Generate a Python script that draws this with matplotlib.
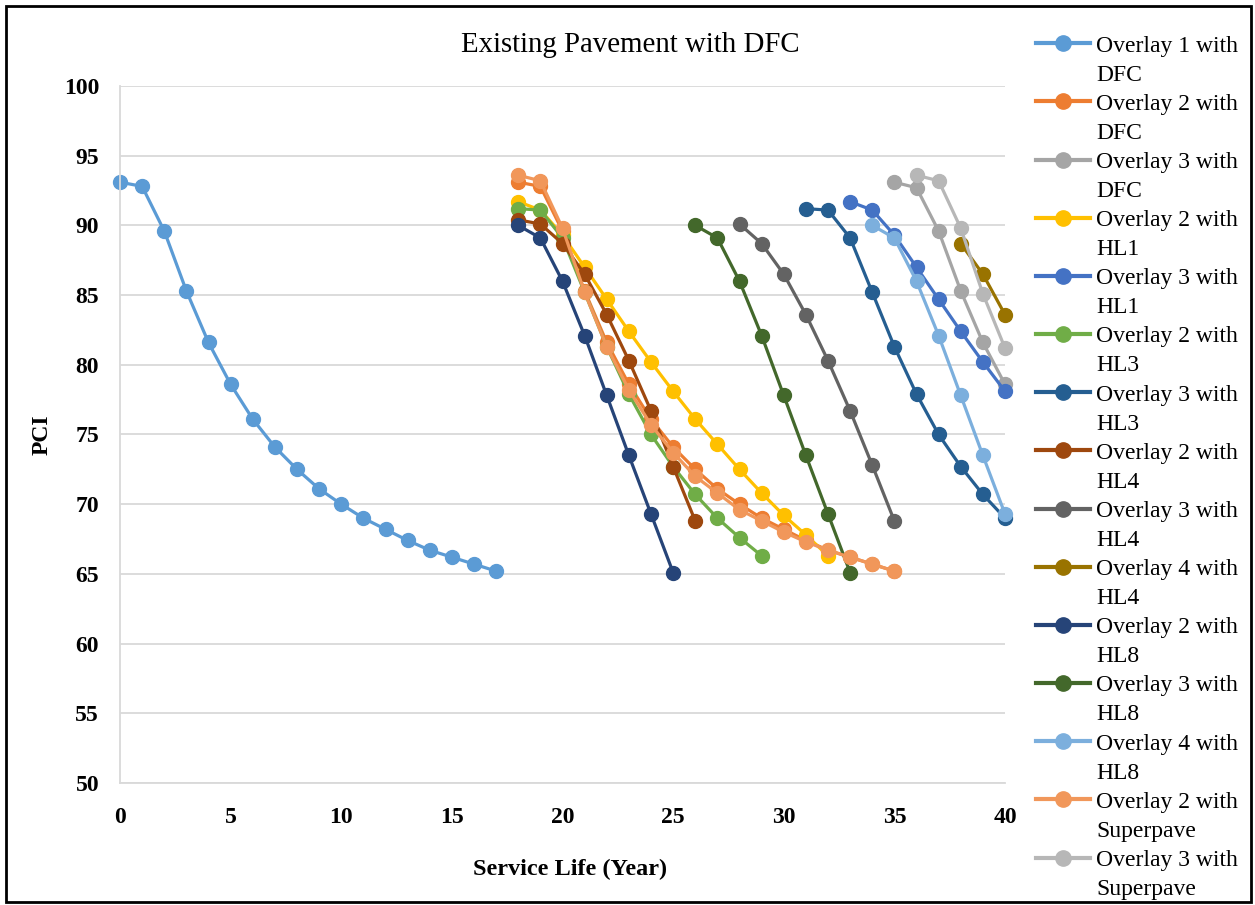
import matplotlib
matplotlib.use("Agg")
import matplotlib.pyplot as plt
from matplotlib.lines import Line2D
from matplotlib.patches import Rectangle

plt.rcParams["font.family"] = ["Liberation Serif", "DejaVu Serif"]

# PCI curves: (start year, values for consecutive years)
ov1_dfc_start = 0
ov1_dfc = [93.1, 92.8, 89.6, 85.3, 81.6, 78.6, 76.1, 74.1, 72.5, 71.1, 70.0, 69.0,
           68.2, 67.4, 66.7, 66.2, 65.7, 65.2]
ov2_dfc_start = 18
ov2_dfc = [93.1, 92.8, 89.6, 85.3, 81.6, 78.6, 76.1, 74.1, 72.5, 71.1, 70.0, 69.0,
           68.2, 67.4, 66.7, 66.2, 65.7, 65.2]
ov3_dfc_start = 35
ov3_dfc = [93.1, 92.7, 89.6, 85.3, 81.6, 78.6]
ov2_hl1_start = 18
ov2_hl1 = [91.7, 91.1, 89.3, 87.0, 84.7, 82.4, 80.2, 78.1, 76.1, 74.3, 72.5, 70.8,
           69.2, 67.8, 66.3]
ov3_hl1_start = 33
ov3_hl1 = [91.7, 91.1, 89.3, 87.0, 84.7, 82.4, 80.2, 78.1]
ov2_hl3_start = 18
ov2_hl3 = [91.2, 91.1, 89.1, 85.2, 81.3, 77.9, 75.0, 72.7, 70.7, 69.0, 67.6, 66.3]
ov3_hl3_start = 31
ov3_hl3 = [91.2, 91.1, 89.1, 85.2, 81.3, 77.9, 75.0, 72.7, 70.7, 69.0]
ov2_hl4_start = 18
ov2_hl4 = [90.4, 90.1, 88.7, 86.5, 83.6, 80.3, 76.7, 72.7, 68.8]
ov3_hl4_start = 28
ov3_hl4 = [90.1, 88.7, 86.5, 83.6, 80.3, 76.7, 72.8, 68.8]
ov4_hl4_start = 38
ov4_hl4 = [88.7, 86.5, 83.6]
ov2_hl8_start = 18
ov2_hl8 = [90.0, 89.1, 86.0, 82.1, 77.8, 73.5, 69.3, 65.1]
ov3_hl8_start = 26
ov3_hl8 = [90.0, 89.1, 86.0, 82.1, 77.8, 73.5, 69.3, 65.1]
ov4_hl8_start = 34
ov4_hl8 = [90.0, 89.1, 86.0, 82.1, 77.8, 73.5, 69.3]
ov2_sp_start = 18
ov2_sp = [93.6, 93.2, 89.8, 85.2, 81.3, 78.2, 75.7, 73.7, 72.0, 70.8, 69.6, 68.8,
          68.0, 67.3, 66.7, 66.2, 65.7, 65.2]
ov3_sp_start = 36
ov3_sp = [93.6, 93.2, 89.8, 85.1, 81.2]

series_labels = [
    ("Overlay 1 with", "DFC"), ("Overlay 2 with", "DFC"), ("Overlay 3 with", "DFC"),
    ("Overlay 2 with", "HL1"), ("Overlay 3 with", "HL1"),
    ("Overlay 2 with", "HL3"), ("Overlay 3 with", "HL3"),
    ("Overlay 2 with", "HL4"), ("Overlay 3 with", "HL4"), ("Overlay 4 with", "HL4"),
    ("Overlay 2 with", "HL8"), ("Overlay 3 with", "HL8"), ("Overlay 4 with", "HL8"),
    ("Overlay 2 with", "Superpave"), ("Overlay 3 with", "Superpave"),
]
series_data = [
    (ov1_dfc_start, ov1_dfc), (ov2_dfc_start, ov2_dfc), (ov3_dfc_start, ov3_dfc),
    (ov2_hl1_start, ov2_hl1), (ov3_hl1_start, ov3_hl1),
    (ov2_hl3_start, ov2_hl3), (ov3_hl3_start, ov3_hl3),
    (ov2_hl4_start, ov2_hl4), (ov3_hl4_start, ov3_hl4), (ov4_hl4_start, ov4_hl4),
    (ov2_hl8_start, ov2_hl8), (ov3_hl8_start, ov3_hl8), (ov4_hl8_start, ov4_hl8),
    (ov2_sp_start, ov2_sp), (ov3_sp_start, ov3_sp),
]
colors = ["#5B9BD5", "#ED7D31", "#A5A5A5", "#FFC000", "#4472C4", "#70AD47",
          "#255E91", "#9E480E", "#636363", "#997300", "#264478", "#43682B",
          "#7CAFDD", "#F1975A", "#B7B7B7"]

x_ticks = [0, 5, 10, 15, 20, 25, 30, 35, 40]
y_ticks = [50, 55, 60, 65, 70, 75, 80, 85, 90, 95, 100]

W, H = 1255, 905
fig = plt.figure(figsize=(W / 100, H / 100), dpi=100)
ax = fig.add_axes([120 / W, 1 - 783 / H, (1005 - 120) / W, (783 - 86) / H])

for (start, vals), color in zip(series_data, colors):
    xs = list(range(start, start + len(vals)))
    ax.plot(xs, vals, color=color, lw=2.3, marker="o", ms=10, mec=color,
            mfc=color, solid_capstyle="round", clip_on=False)

ax.set_xlim(0, 40)
ax.set_ylim(50, 100)
ax.set_xticks(x_ticks)
ax.set_yticks(y_ticks)
ax.tick_params(length=0, labelsize=17)
ax.tick_params(axis="x", pad=17)
ax.tick_params(axis="y", pad=15)
for lab in ax.get_xticklabels() + ax.get_yticklabels():
    lab.set_fontweight("bold")
ax.grid(axis="y", color="#D9D9D9", lw=1.3)
ax.set_axisbelow(True)
for side in ["top", "right"]:
    ax.spines[side].set_visible(False)
for side in ["left", "bottom"]:
    ax.spines[side].set_color("#D9D9D9")
    ax.spines[side].set_linewidth(1.3)

fig.text(570 / W, 1 - 869 / H, "Service Life (Year)", ha="center", va="center",
         fontsize=17.5, fontweight="bold")
fig.text(42 / W, 1 - 435 / H, "PCI", ha="center", va="center", rotation=90,
         fontsize=17, fontweight="bold")
fig.text(630 / W, 1 - 45 / H, "Existing Pavement with DFC", ha="center",
         va="center", fontsize=20.8)

# legend: marker row on the first text line, blank handle for the second line
handles, labels = [], []
for (l1, l2), color in zip(series_labels, colors):
    handles.append(Line2D([], [], color=color, lw=3, marker="o", ms=11,
                          mfc=color, mec=color))
    labels.append(l1)
    handles.append(Line2D([], [], linestyle="none", marker=None))
    labels.append(l2)
fig.legend(handles, labels, loc="upper left", bbox_to_anchor=(1036 / W, 1 - 35 / H),
           frameon=False, fontsize=17, handlelength=2.3, handletextpad=0.25,
           labelspacing=0.32, borderpad=0, borderaxespad=0)

fig.add_artist(Rectangle((6 / W, 3 / H), (1251 - 6) / W, (902 - 6) / H,
                         transform=fig.transFigure, fill=False, ec="black", lw=2))

fig.savefig("out.png", dpi=100)
